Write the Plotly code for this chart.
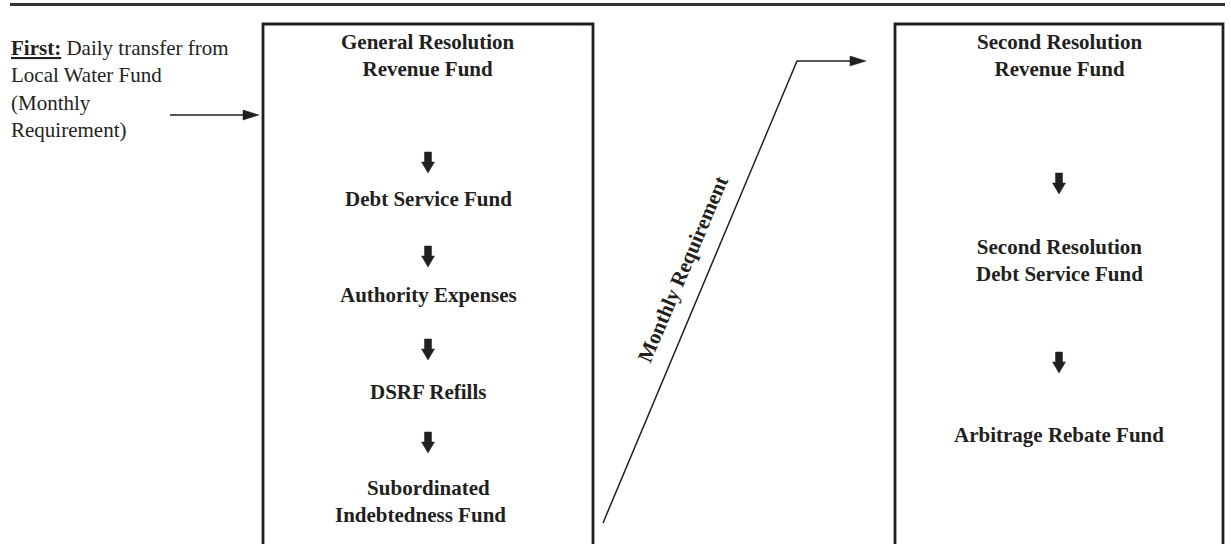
import plotly.graph_objects as go

# ---- content ----
intro_lines = ["<u><b>First:</b></u> Daily transfer from", "Local Water Fund", "(Monthly", "Requirement)"]
general_steps = ["General Resolution<br>Revenue Fund", "Debt Service Fund", "Authority Expenses",
                 "DSRF Refills", "Subordinated<br>Indebtedness Fund\u00a0\u00a0\u00a0"]
second_steps = ["Second Resolution<br>Revenue Fund", "Second Resolution<br>Debt Service Fund",
                "Arbitrage Rebate Fund"]
transfer_label = "Monthly Requirement"

# ---- layout (pixel coordinates) ----
W, H = 1231, 544
INK = "#231f20"
FONT = "Liberation Serif"
FS = 21

left_box = (263, 593)
right_box = (895, 1223)
box_top = 24
general_y = [55, 199, 295, 392, 501]
general_arrow_y = [163, 257, 350, 443]
second_y = [55.5, 260, 435]
second_arrow_y = [184, 363]

fig = go.Figure()
shapes = []
annotations = []

# top rule
shapes.append(dict(type="line", x0=10, x1=1225, y0=4.5, y1=4.5, line=dict(color="#333333", width=3)))

# boxes (open at the bottom)
for x0, x1 in (left_box, right_box):
    shapes.append(dict(type="path", path=f"M{x0},{H+20} L{x0},{box_top} L{x1},{box_top} L{x1},{H+20}",
                       line=dict(color=INK, width=2.8)))

def block_arrow(cx, cy):
    sw, hw = 3.5, 6.5
    p = (f"M{cx-sw},{cy-11} L{cx+sw},{cy-11} L{cx+sw},{cy-1} L{cx+hw},{cy-1} "
         f"L{cx},{cy+10} L{cx-hw},{cy-1} L{cx-sw},{cy-1} Z")
    return dict(type="path", path=p, fillcolor=INK, line=dict(color=INK, width=0.5))

def head_right(tx, ty):
    return dict(type="path", path=f"M{tx},{ty} L{tx-16},{ty-5} L{tx-16},{ty+5} Z",
                fillcolor=INK, line=dict(color=INK, width=0.5))

lcx = sum(left_box) / 2
rcx = sum(right_box) / 2
for y in general_arrow_y:
    shapes.append(block_arrow(lcx, y))
for y in second_arrow_y:
    shapes.append(block_arrow(rcx, y))

# incoming arrow
shapes.append(dict(type="line", x0=170, x1=246, y0=115, y1=115, line=dict(color=INK, width=1.5)))
shapes.append(head_right(259, 115))

# transfer line between boxes
vx, vy = 797, 61
shapes.append(dict(type="path", path=f"M603,523 L{vx},{vy} L852,{vy}", line=dict(color=INK, width=1.5)))
shapes.append(head_right(866, vy))

# texts
annotations.append(dict(x=9, y=88.5, xanchor="left", yanchor="middle", align="left",
                        text="<br>".join(intro_lines), showarrow=False,
                        font=dict(family=FONT, size=FS, color=INK)))
for t, y in zip(general_steps, general_y):
    annotations.append(dict(x=lcx, y=y, text=t, showarrow=False, xanchor="center", yanchor="middle",
                            font=dict(family=FONT, size=FS, color=INK, weight="bold")))
for t, y in zip(second_steps, second_y):
    annotations.append(dict(x=rcx, y=y, text=t, showarrow=False, xanchor="center", yanchor="middle",
                            font=dict(family=FONT, size=FS, color=INK, weight="bold")))
annotations.append(dict(x=683, y=269, text=transfer_label, showarrow=False, textangle=-67,
                        font=dict(family=FONT, size=FS, color=INK, weight="bold")))

fig.update_layout(
    width=W, height=H, margin=dict(l=0, r=0, t=0, b=0),
    paper_bgcolor="white", plot_bgcolor="white",
    xaxis=dict(range=[0, W], visible=False, fixedrange=True),
    yaxis=dict(range=[H, 0], visible=False, fixedrange=True),
    shapes=shapes, annotations=annotations, showlegend=False,
)

fig.write_html("out.html", config={"displayModeBar": False},
               post_script="document.body.style.margin='0';document.body.style.overflow='hidden';")
